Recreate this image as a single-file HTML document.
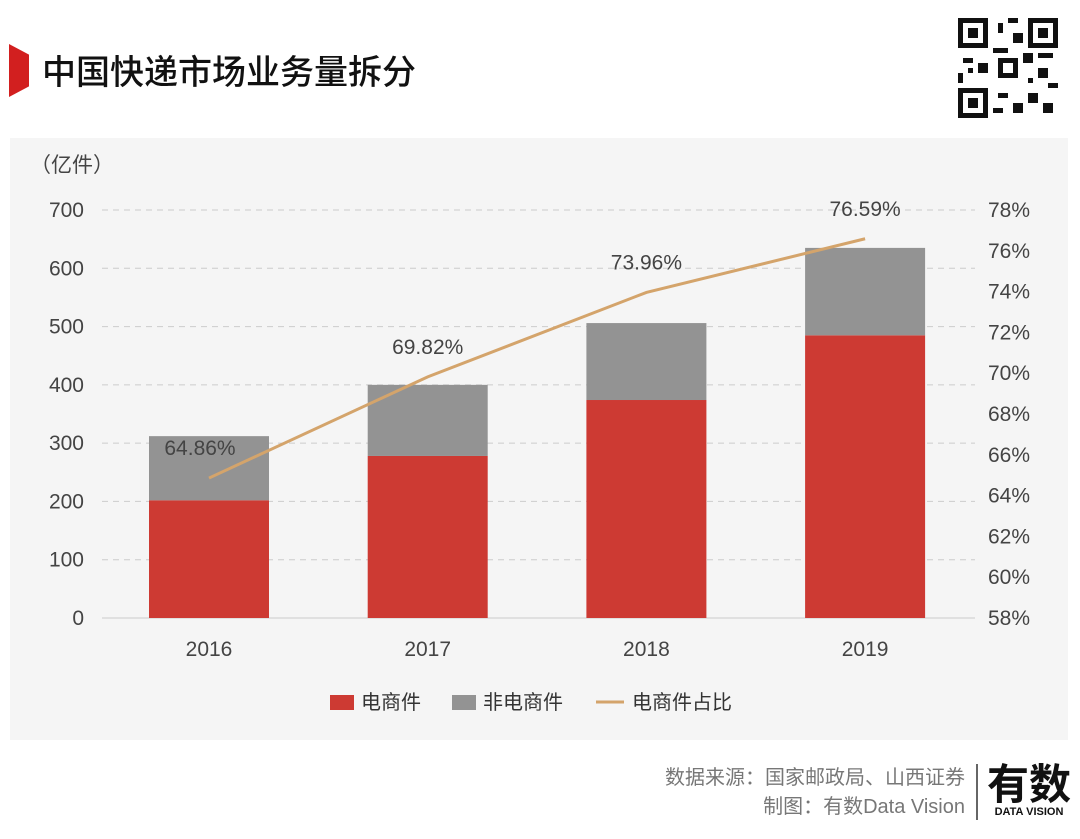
<!DOCTYPE html>
<html><head><meta charset="utf-8"><style>
body{margin:0;width:1080px;height:839px;background:#fff;position:relative;overflow:hidden;font-family:"Liberation Sans","Noto Sans CJK SC",sans-serif}
.abs{position:absolute}
</style></head><body>
<div class="abs" style="left:9px;top:44px;width:20px;height:53px;background:#d21f1f;clip-path:polygon(0 0,100% 20%,100% 80%,0 100%)"></div>
<div class="abs" style="left:42px;top:49px;font-size:34px;color:#111;font-family:'Noto Sans CJK SC',sans-serif;line-height:42px;font-weight:500">中国快递市场业务量拆分</div>
<svg class="abs" style="left:958px;top:18px" width="100" height="100" viewBox="0 0 20 20">
<rect width="20" height="20" fill="#fff"/>
<g fill="#111"><rect x="0" y="0" width="6" height="6"/><rect x="14" y="0" width="6" height="6"/><rect x="0" y="14" width="6" height="6"/>
<rect x="8" y="1" width="1" height="2"/><rect x="10" y="0" width="2" height="1"/><rect x="11" y="3" width="2" height="2"/><rect x="7" y="6" width="3" height="1"/><rect x="13" y="7" width="2" height="2"/><rect x="16" y="7" width="3" height="1"/><rect x="1" y="8" width="2" height="1"/><rect x="4" y="9" width="2" height="2"/><rect x="0" y="11" width="1" height="2"/><rect x="16" y="10" width="2" height="2"/><rect x="18" y="13" width="2" height="1"/><rect x="14" y="15" width="2" height="2"/><rect x="17" y="17" width="2" height="2"/><rect x="8" y="15" width="2" height="1"/><rect x="11" y="17" width="2" height="2"/><rect x="7" y="18" width="2" height="1"/><rect x="2" y="10" width="1" height="1"/><rect x="14" y="12" width="1" height="1"/><rect x="8" y="8" width="4" height="4"/></g>
<g fill="#fff"><rect x="1" y="1" width="4" height="4"/><rect x="15" y="1" width="4" height="4"/><rect x="1" y="15" width="4" height="4"/><rect x="9" y="9" width="2" height="2"/></g>
<g fill="#111"><rect x="2" y="2" width="2" height="2"/><rect x="16" y="2" width="2" height="2"/><rect x="2" y="16" width="2" height="2"/></g></svg>
<div class="abs" style="left:10px;top:138px;width:1058px;height:602px;background:#f5f5f5"></div>
<svg class="abs" id="chart" style="left:0;top:0" width="1080" height="839"></svg>
<div class="abs" style="right:115px;top:764px;font-size:20px;color:#777;text-align:right;line-height:29px">数据来源：国家邮政局、山西证券<br>制图：有数Data Vision</div>
<div class="abs" style="left:976px;top:764px;width:2px;height:56px;background:#666"></div>
<div class="abs" style="left:986px;top:758px;width:86px;text-align:center">
<div style="font-size:42px;font-weight:bold;color:#111;line-height:48px;font-family:'Noto Sans CJK SC',sans-serif">有数</div>
<div style="font-size:11px;font-weight:bold;color:#111">DATA VISION</div></div>
<script>
const years=['2016','2017','2018','2019'];
const ecom=[202,278,374,485];
const total=[312,400,506,635];
const share=[64.86,69.82,73.96,76.59];
const leftTicks=[0,100,200,300,400,500,600,700];
const rightTicks=[58,60,62,64,66,68,70,72,74,76,78];
const svg=document.getElementById('chart');const NS='http://www.w3.org/2000/svg';
function mk(t,a,p){const e=document.createElementNS(NS,t);for(const k in a)e.setAttribute(k,a[k]);(p||svg).appendChild(e);return e;}
const y0=618,y1=210;
const yL=v=>y0-(v/700)*(y0-y1);
const yR=v=>y0-((v-58)/20)*(y0-y1);
const xC=i=>209+i*218.7;
const bw=120;
leftTicks.forEach(v=>{
 if(v>0){const l=mk('line',{x1:102,x2:975,y1:yL(v),y2:yL(v),stroke:'#ccc','stroke-dasharray':'6,5','stroke-width':1});
 }
 const t=mk('text',{x:84,y:yL(v)+7,'text-anchor':'end','font-size':21,fill:'#444'});t.textContent=v;
 
});
const ax=mk('line',{x1:102,x2:975,y1:y0,y2:y0,stroke:'#ccc','stroke-width':1});

rightTicks.forEach(v=>{const t=mk('text',{x:988,y:yR(v)+7,'font-size':21,fill:'#444'});t.textContent=v+'%';
 });
const u=mk('text',{x:30,y:172,'font-size':21,fill:'#444'});u.textContent='（亿件）';

years.forEach((yr,i)=>{
 const x=xC(i)-bw/2;
 const r1=mk('rect',{x:x,y:yL(ecom[i]),width:bw,height:yL(0)-yL(ecom[i]),fill:'#cd3a33'});
 
 const r2=mk('rect',{x:x,y:yL(total[i]),width:bw,height:yL(ecom[i])-yL(total[i]),fill:'#939393'});
 
 const t=mk('text',{x:xC(i),y:656,'text-anchor':'middle','font-size':21,fill:'#444'});t.textContent=yr;
 
});
const pl=mk('polyline',{points:share.map((v,i)=>xC(i)+','+yR(v)).join(' '),fill:'none',stroke:'#d4a46b','stroke-width':3});

share.forEach((v,i)=>{const t=mk('text',{x:xC(i)-(i===0?9:0),y:yR(v)-23,'text-anchor':'middle','font-size':21,fill:'#444'});t.textContent=v.toFixed(2)+'%';
 });
const lg=[['rect','#cd3a33','电商件',330],['rect','#939393','非电商件',452],['line','#d4a46b','电商件占比',596]];
lg.forEach(([k,c,txt,x])=>{
 let m;if(k==='rect')m=mk('rect',{x:x,y:695,width:24,height:15,fill:c});else m=mk('line',{x1:x,x2:x+28,y1:702,y2:702,stroke:c,'stroke-width':3});
 
 const t=mk('text',{x:x+(k==='rect'?31:36),y:709,'font-size':20,fill:'#333'});t.textContent=txt;
 
});
</script>
</body></html>
